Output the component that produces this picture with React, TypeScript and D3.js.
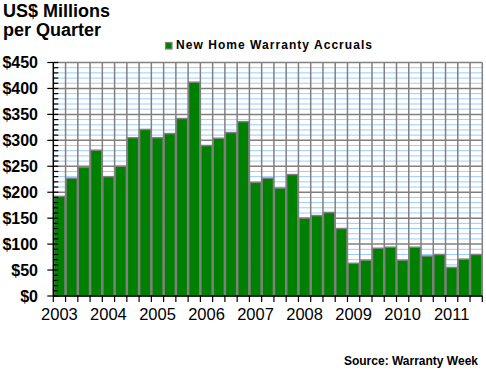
import React, { useEffect, useRef } from 'react';
import * as d3 from 'd3';

const years = ['2003', '2004', '2005', '2006', '2007', '2008', '2009', '2010', '2011'];
const quarters = ['Q1', 'Q2', 'Q3', 'Q4'];

// New home warranty accruals, US$ millions per quarter, 2003Q1 .. 2011Q3
const accruals = [
  192, 227, 248, 281,
  230, 250, 305, 321,
  305, 313, 342, 412,
  290, 304, 315, 336,
  219, 227, 208, 234,
  150, 155, 161, 130,
  63, 69, 92, 94,
  69, 94, 77, 80,
  55, 71, 80,
];

const yTicks = [0, 50, 100, 150, 200, 250, 300, 350, 400, 450];

export default function App() {
  const chartContainer = useRef<SVGSVGElement | null>(null);

  useEffect(() => {
    const labels: string[] = [];
    years.forEach(y => quarters.forEach(q => labels.push(`${y} ${q}`)));
    const data = accruals.map((v, i) => ({ label: labels[i], value: v }));

    const width = 486;
    const height = 391;
    const left = 53.3;
    const right = 482.3;
    const top = 62.5;
    const bottom = 296;
    const font = '"Liberation Sans", Arial, sans-serif';

    const svg = d3.select(chartContainer.current);
    svg.selectAll('*').remove();
    svg.attr('width', width).attr('height', height);

    const xScale = d3.scaleBand()
      .domain(data.map(d => d.label))
      .range([left, right])
      .padding(0);

    const yScale = d3.scaleLinear()
      .domain([0, 450])
      .range([bottom, top]);

    // minor gridlines every $10
    svg.append('g')
      .selectAll('line')
      .data(d3.range(10, 450, 10).filter(v => v % 50 !== 0))
      .enter()
      .append('line')
      .attr('x1', left)
      .attr('x2', right)
      .attr('y1', d => yScale(d))
      .attr('y2', d => yScale(d))
      .attr('stroke', '#99ccff')
      .attr('stroke-width', 1);

    // major gridlines
    svg.append('g')
      .selectAll('line')
      .data(yTicks.filter(v => v > 0))
      .enter()
      .append('line')
      .attr('x1', left)
      .attr('x2', right)
      .attr('y1', d => yScale(d))
      .attr('y2', d => yScale(d))
      .attr('stroke', '#808080')
      .attr('stroke-width', 1.5);

    // vertical gridlines at category boundaries
    const bounds = data.map(d => xScale(d.label)! + xScale.bandwidth());
    svg.append('g')
      .selectAll('line')
      .data(bounds)
      .enter()
      .append('line')
      .attr('x1', d => d)
      .attr('x2', d => d)
      .attr('y1', top)
      .attr('y2', bottom)
      .attr('stroke', '#808080')
      .attr('stroke-width', 1.5);

    svg.append('g')
      .selectAll('rect')
      .data(data)
      .enter()
      .append('rect')
      .attr('x', d => xScale(d.label)! + 0.5)
      .attr('y', d => yScale(d.value))
      .attr('width', xScale.bandwidth() - 1)
      .attr('height', d => bottom - yScale(d.value))
      .attr('fill', '#008000')
      .attr('stroke', '#808080')
      .attr('stroke-width', 1.5);

    // axes baselines
    svg.append('line')
      .attr('x1', left).attr('x2', right)
      .attr('y1', bottom).attr('y2', bottom)
      .attr('stroke', 'black').attr('stroke-width', 1.5);
    svg.append('line')
      .attr('x1', left).attr('x2', left)
      .attr('y1', top).attr('y2', bottom)
      .attr('stroke', 'black').attr('stroke-width', 1.5);

    // y minor ticks (inside)
    svg.append('g')
      .selectAll('line')
      .data(d3.range(0, 460, 10))
      .enter()
      .append('line')
      .attr('x1', left)
      .attr('x2', left + 5)
      .attr('y1', d => yScale(d))
      .attr('y2', d => yScale(d))
      .attr('stroke', 'black')
      .attr('stroke-width', 1.2);

    // y major ticks and labels
    const yg = svg.append('g');
    yg.selectAll('line')
      .data(yTicks)
      .enter()
      .append('line')
      .attr('x1', left - 6)
      .attr('x2', left)
      .attr('y1', d => yScale(d))
      .attr('y2', d => yScale(d))
      .attr('stroke', 'black')
      .attr('stroke-width', 1.2);
    yg.selectAll('text')
      .data(yTicks)
      .enter()
      .append('text')
      .attr('x', 38)
      .attr('y', d => yScale(d) + 5.5)
      .attr('text-anchor', 'end')
      .attr('font-family', font)
      .attr('font-weight', 'bold')
      .attr('font-size', 16)
      .text(d => `$${d}`);

    // x ticks
    svg.append('g')
      .selectAll('line')
      .data([left, ...bounds])
      .enter()
      .append('line')
      .attr('x1', d => d)
      .attr('x2', d => d)
      .attr('y1', bottom)
      .attr('y2', bottom + 6)
      .attr('stroke', 'black')
      .attr('stroke-width', 1.2);

    // year labels centered on Q1
    svg.append('g')
      .selectAll('text')
      .data(years)
      .enter()
      .append('text')
      .attr('x', d => xScale(`${d} Q1`)! + xScale.bandwidth() / 2)
      .attr('y', 320)
      .attr('text-anchor', 'middle')
      .attr('font-family', font)
      .attr('font-size', 16.5)
      .text(d => d);

    // title
    const title = svg.append('text')
      .attr('font-family', font)
      .attr('font-weight', 'bold')
      .attr('font-size', 18);
    title.append('tspan').attr('x', 3).attr('y', 17).text('US$ Millions');
    title.append('tspan').attr('x', 3).attr('y', 36).text('per Quarter');

    // legend
    svg.append('rect')
      .attr('x', 165.5)
      .attr('y', 42.5)
      .attr('width', 6.5)
      .attr('height', 6.5)
      .attr('fill', '#008000')
      .attr('stroke', '#808080')
      .attr('stroke-width', 1.2);
    svg.append('text')
      .attr('x', 176)
      .attr('y', 49.3)
      .attr('font-family', font)
      .attr('font-weight', 'bold')
      .attr('font-size', 12)
      .attr('textLength', 196)
      .text('New Home Warranty Accruals');

    // source
    svg.append('text')
      .attr('x', 478)
      .attr('y', 365)
      .attr('text-anchor', 'end')
      .attr('font-family', font)
      .attr('font-weight', 'bold')
      .attr('font-size', 12)
      .text('Source: Warranty Week');
  }, []);

  return (
    <svg
      ref={chartContainer}
      style={{ position: 'absolute', left: 0, top: 0, background: 'white' }}
    />
  );
}
